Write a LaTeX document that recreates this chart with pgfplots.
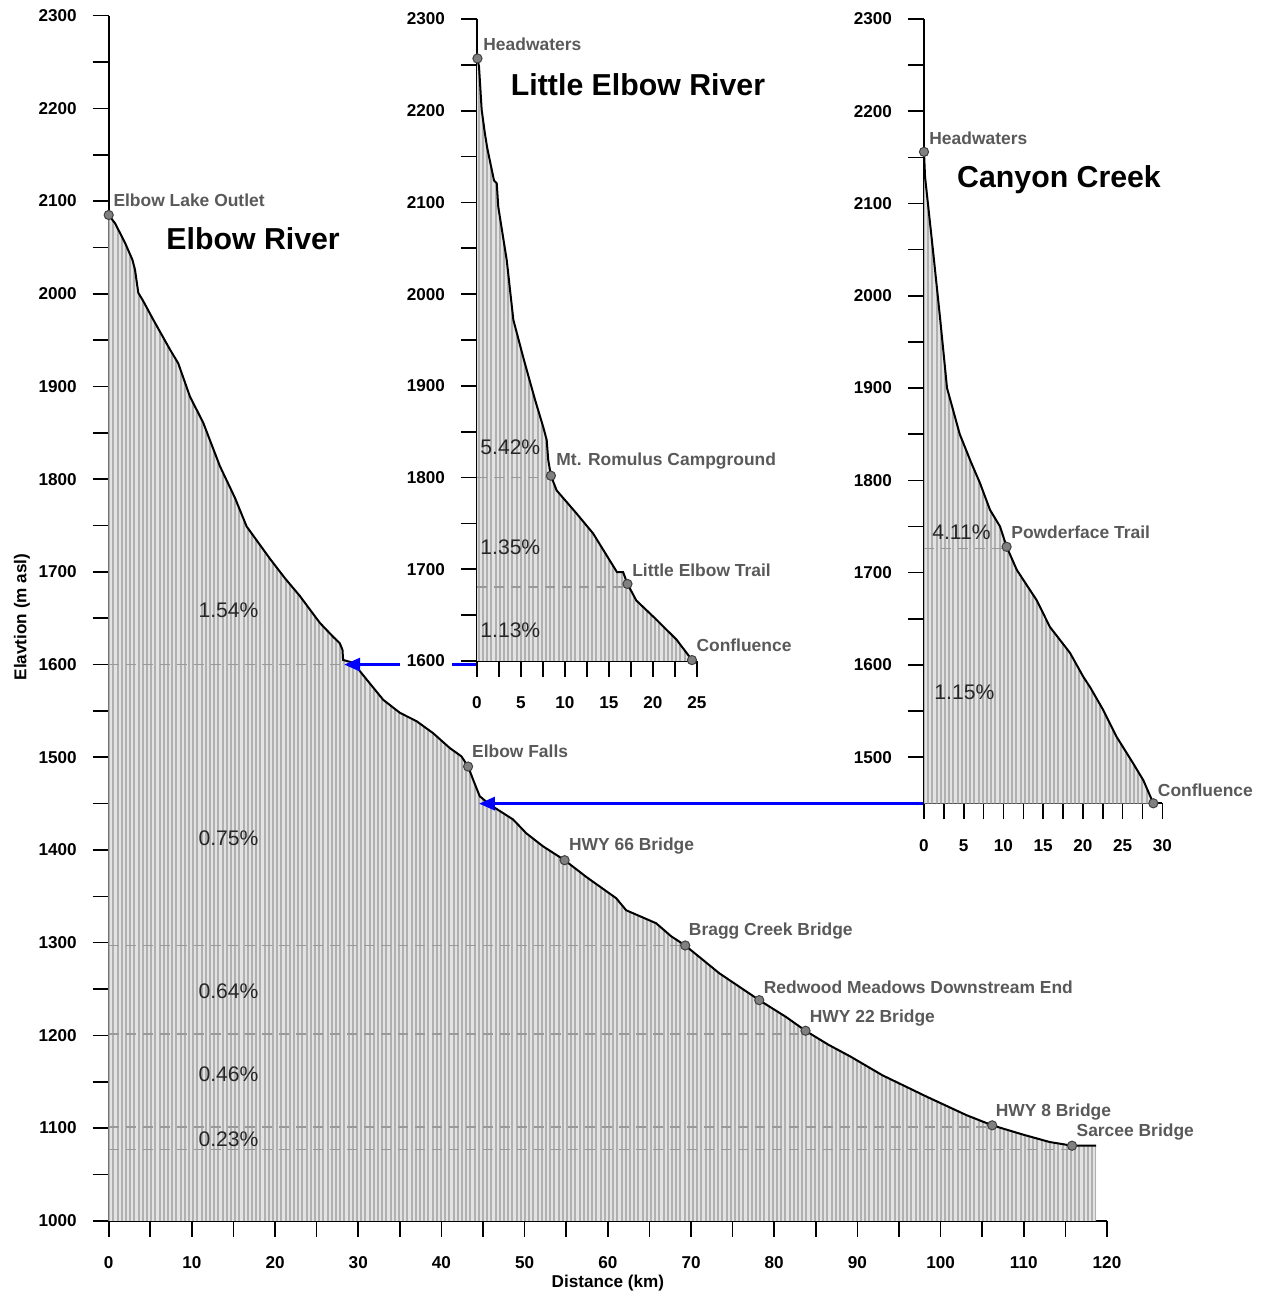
\documentclass[border=0pt]{standalone}
\usepackage{fontspec}
\setmainfont{Liberation Sans}
\usepackage{pgfplots}
\pgfplotsset{compat=1.18}
\usetikzlibrary{patterns.meta,arrows.meta}

\definecolor{lblgray}{HTML}{595959}
\definecolor{mkgray}{HTML}{808080}
\definecolor{dashgray}{HTML}{999999}

\pgfplotsset{
  prof/.style={
    scale only axis, clip=false,
    axis lines*=left,
    axis line style={line width=1bp, black},
    tick align=outside,
    major tick length=8bp, minor tick length=8bp,
    tick style={black, line width=0.8bp},
    ticklabel style={font=\bfseries\fontsize{8.6}{10}\selectfont},
    xticklabel style={yshift=-6.5bp},
    yticklabel style={xshift=-4.5bp},
    /pgf/number format/assume math mode=true,
    /pgf/number format/set thousands separator={},
  },
  hatch/.style={draw=none, fill=gray!22,
    postaction={pattern={Lines[angle=90,distance=2.1bp,line width=0.95bp]}, pattern color=gray!62}},
  profline/.style={black, line width=1bp, mark=none},
  dsh/.style={dashgray, line width=0.8bp, dash pattern=on 5bp off 3.5bp, mark=none},
  stn/.style={only marks, mark=*, mark size=2.3bp, mark options={fill=mkgray, draw=black!75, line width=0.5bp}},
}
\tikzset{
  lbl/.style={font=\bfseries\fontsize{8.75}{10}\selectfont, text=lblgray, inner sep=0pt, anchor=west},
  pct/.style={font=\fontsize{10.6}{12}\selectfont, text=black!85, inner sep=0pt, anchor=west},
  ttl/.style={font=\bfseries\fontsize{15.2}{18}\selectfont, inner sep=0pt},
}

\begin{document}
\begin{tikzpicture}
% ---------------- Elbow River (main) ----------------
\begin{axis}[prof,
  at={(0,0)}, anchor=south west,
  width=499.15bp, height=602.55bp,
  xmin=0, xmax=120, ymin=1000, ymax=2300,
  xtick={0,10,...,120}, minor xtick={5,15,...,115},
  ytick={1000,1100,...,2300}, minor ytick={1050,1150,...,2250},
]
\addplot[hatch] coordinates {
 (0,1000) (0,2085) (0.77,2076) (1.96,2055) (2.84,2037) (3.16,2026) (3.56,2001) (4.16,1992)
 (5.36,1972) (7.36,1940) (8.36,1925) (9.77,1889) (11.36,1861) (13.37,1814) (15.17,1780)
 (16.58,1749) (19.4,1714) (21.2,1693) (22.98,1674) (25.38,1645) (26.98,1630) (27.78,1623)
 (28.1,1616) (28.18,1605) (29.38,1602) (31.0,1584) (33.0,1562) (35.0,1548) (37.0,1539)
 (39.0,1526) (41.0,1510) (42.4,1501) (43.2,1490) (43.8,1476) (44.6,1458) (45.8,1449)
 (48.6,1433) (50.2,1418) (52.2,1404) (54.8,1389) (57.4,1371) (61.0,1348) (62.2,1335)
 (65.8,1321) (67.6,1307) (69.3,1297) (73.4,1267) (78.2,1238) (81.4,1220) (83.76,1205)
 (86.5,1190) (89.2,1177) (93.0,1157) (98.3,1134) (103.1,1114) (106.2,1103) (109.9,1093)
 (113.1,1085) (115.8,1081) (118.7,1081) (118.7,1000)
} -- cycle;
\addplot[dsh] coordinates {(0,1600) (28.2,1600)};
\addplot[dsh] coordinates {(0,1297) (69.3,1297)};
\addplot[dsh] coordinates {(0,1201.5) (83.6,1201.5)};
\addplot[dsh] coordinates {(0,1101) (106.2,1101)};
\addplot[dsh] coordinates {(0,1077) (115.8,1077)};
\addplot[profline] coordinates {
 (0,2085) (0.77,2076) (1.96,2055) (2.84,2037) (3.16,2026) (3.56,2001) (4.16,1992)
 (5.36,1972) (7.36,1940) (8.36,1925) (9.77,1889) (11.36,1861) (13.37,1814) (15.17,1780)
 (16.58,1749) (19.4,1714) (21.2,1693) (22.98,1674) (25.38,1645) (26.98,1630) (27.78,1623)
 (28.1,1616) (28.18,1605) (29.38,1602) (31.0,1584) (33.0,1562) (35.0,1548) (37.0,1539)
 (39.0,1526) (41.0,1510) (42.4,1501) (43.2,1490) (43.8,1476) (44.6,1458) (45.8,1449)
 (48.6,1433) (50.2,1418) (52.2,1404) (54.8,1389) (57.4,1371) (61.0,1348) (62.2,1335)
 (65.8,1321) (67.6,1307) (69.3,1297) (73.4,1267) (78.2,1238) (81.4,1220) (83.76,1205)
 (86.5,1190) (89.2,1177) (93.0,1157) (98.3,1134) (103.1,1114) (106.2,1103) (109.9,1093)
 (113.1,1085) (115.8,1081) (118.7,1081)
};
\draw[blue, line width=1.6bp, -{Triangle[length=8bp,width=6.5bp]}] (axis cs:44.24,1600) -- (axis cs:28.3,1600);
\draw[blue, line width=1.6bp, -{Triangle[length=8bp,width=6.5bp]}] (axis cs:97.94,1450) -- (axis cs:44.5,1450);
\addplot[stn] coordinates {(0,2085) (43.2,1490) (54.8,1389) (69.3,1297) (78.2,1238) (83.76,1205) (106.2,1103) (115.8,1081)};
\node[lbl] at (axis cs:0.53,2100.6) {Elbow Lake Outlet};
\node[lbl] at (axis cs:43.64,1506) {Elbow Falls};
\node[lbl] at (axis cs:55.29,1404.5) {HWY 66 Bridge};
\node[lbl] at (axis cs:69.7,1312.7) {Bragg Creek Bridge};
\node[lbl] at (axis cs:78.7,1252.3) {Redwood Meadows Downstream End};
\node[lbl] at (axis cs:84.24,1218.9) {HWY 22 Bridge};
\node[lbl] at (axis cs:106.58,1117.5) {HWY 8 Bridge};
\node[lbl] at (axis cs:116.3,1095.9) {Sarcee Bridge};
\node[pct] at (axis cs:10.75,1659) {1.54\%};
\node[pct] at (axis cs:10.75,1413) {0.75\%};
\node[pct] at (axis cs:10.75,1248) {0.64\%};
\node[pct] at (axis cs:10.75,1158) {0.46\%};
\node[pct] at (axis cs:10.75,1088) {0.23\%};
\node[ttl] at (axis cs:17.36,2059) {Elbow River};
\node[font=\bfseries\fontsize{8.6}{10}\selectfont, inner sep=0pt] at (axis description cs:0.5,-0.0515) {Distance (km)};
\node[font=\bfseries\fontsize{8.6}{10}\selectfont, inner sep=0pt, rotate=90] at (axis description cs:-0.0868,0.501) {Elavtion (m asl)};
\end{axis}

% ---------------- Little Elbow River ----------------
\begin{axis}[prof,
  at={(184.15bp,279.9bp)}, anchor=south west,
  width=110bp, height=321bp,
  xmin=0, xmax=25, ymin=1600, ymax=2300,
  xtick={0,5,...,25}, minor xtick={2.5,7.5,...,22.5},
  ytick={1600,1700,...,2300}, minor ytick={1650,1750,...,2250},
  yticklabel style={fill=white},
]
\addplot[hatch] coordinates {
 (0,1600) (0,2257) (0.23,2248) (0.53,2201) (0.9,2175) (1.17,2159) (1.93,2124) (2.24,2121)
 (2.42,2095) (3.38,2037) (4.13,1972) (5.34,1928) (6.59,1885) (7.53,1855) (7.92,1841)
 (8.1,1819) (8.4,1802) (9.05,1786) (11.3,1761) (13.2,1739) (15.9,1697) (16.6,1697)
 (17.1,1684) (18.1,1666) (20.4,1645) (22.7,1623) (24.43,1601) (24.43,1600)
} -- cycle;
\addplot[dsh] coordinates {(0,1800) (8.4,1800)};
\addplot[dsh] coordinates {(0,1681) (17.1,1681)};
\addplot[profline] coordinates {
 (0.05,2257) (0.23,2248) (0.53,2201) (0.9,2175) (1.17,2159) (1.93,2124) (2.24,2121)
 (2.42,2095) (3.38,2037) (4.13,1972) (5.34,1928) (6.59,1885) (7.53,1855) (7.92,1841)
 (8.1,1819) (8.4,1802) (9.05,1786) (11.3,1761) (13.2,1739) (15.9,1697) (16.6,1697)
 (17.1,1684) (18.1,1666) (20.4,1645) (22.7,1623) (24.43,1601)
};
\addplot[stn] coordinates {(0.05,2257) (8.4,1802) (17.1,1684) (24.43,1601)};
\node[lbl] at (axis cs:0.68,2272.8) {Headwaters};
\node[lbl] at (axis cs:8.98,1818) {Mt. Romulus Campground};
\node[lbl] at (axis cs:17.6,1699) {Little Elbow Trail};
\node[lbl] at (axis cs:24.9,1617) {Confluence};
\node[pct] at (axis cs:0.34,1833) {5.42\%};
\node[pct] at (axis cs:0.34,1724) {1.35\%};
\node[pct] at (axis cs:0.34,1633) {1.13\%};
\node[ttl] at (axis cs:18.3,2228) {Little Elbow River};
\end{axis}

% ---------------- Canyon Creek ----------------
\begin{axis}[prof,
  at={(407.65bp,208.75bp)}, anchor=south west,
  width=119.15bp, height=392.15bp,
  xmin=0, xmax=30, ymin=1450, ymax=2300,
  xtick={0,5,...,30}, minor xtick={2.5,7.5,...,27.5},
  ytick={1500,1600,...,2300}, minor ytick={1550,1650,...,2250},
]
\addplot[hatch] coordinates {
 (0,1450) (0,2156) (0.13,2129) (1.17,2046) (2.01,1977) (2.9,1900) (4.5,1850) (5.9,1820)
 (7.05,1797) (8.31,1768) (9.57,1750) (10.4,1728) (11.68,1703) (14.19,1670) (15.86,1641)
 (17.12,1627) (18.38,1613) (20.06,1587) (20.9,1576) (22.57,1551) (24.25,1522) (26.35,1493)
 (27.61,1475) (28.87,1450)
} -- cycle;
\addplot[dsh] coordinates {(0,1726) (10.4,1726)};
\addplot[profline] coordinates {
 (0,2156) (0.13,2129) (1.17,2046) (2.01,1977) (2.9,1900) (4.5,1850) (5.9,1820)
 (7.05,1797) (8.31,1768) (9.57,1750) (10.4,1728) (11.68,1703) (14.19,1670) (15.86,1641)
 (17.12,1627) (18.38,1613) (20.06,1587) (20.9,1576) (22.57,1551) (24.25,1522) (26.35,1493)
 (27.61,1475) (28.87,1450)
};
\addplot[stn] coordinates {(0,2156) (10.4,1728) (28.87,1450)};
\node[lbl] at (axis cs:0.63,2171) {Headwaters};
\node[lbl] at (axis cs:10.95,1744) {Powderface Trail};
\node[lbl] at (axis cs:29.4,1464.5) {Confluence};
\node[pct] at (axis cs:1.0,1744) {4.11\%};
\node[pct] at (axis cs:1.26,1570) {1.15\%};
\node[ttl] at (axis cs:17.0,2126) {Canyon Creek};
\end{axis}

\path (-54.35bp,610.4bp) rectangle (576.65bp,-36.6bp);
\end{tikzpicture}
\end{document}
